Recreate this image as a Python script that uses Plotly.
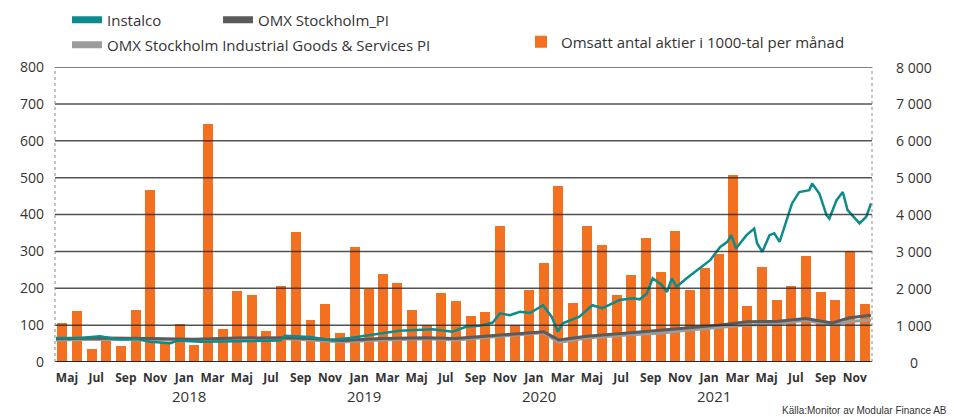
import plotly.graph_objects as go

# ---------------- data ----------------
months = ["2017-05", "2017-06", "2017-07", "2017-08", "2017-09", "2017-10", "2017-11", "2017-12",
          "2018-01", "2018-02", "2018-03", "2018-04", "2018-05", "2018-06", "2018-07", "2018-08",
          "2018-09", "2018-10", "2018-11", "2018-12", "2019-01", "2019-02", "2019-03", "2019-04",
          "2019-05", "2019-06", "2019-07", "2019-08", "2019-09", "2019-10", "2019-11", "2019-12",
          "2020-01", "2020-02", "2020-03", "2020-04", "2020-05", "2020-06", "2020-07", "2020-08",
          "2020-09", "2020-10", "2020-11", "2020-12", "2021-01", "2021-02", "2021-03", "2021-04",
          "2021-05", "2021-06", "2021-07", "2021-08", "2021-09", "2021-10", "2021-11", "2021-12"]
volume_k = [1050, 1380, 350, 570, 440, 1420, 4670, 520,
            1030, 470, 6460, 900, 1930, 1820, 840, 2060,
            3520, 1140, 1570, 780, 3120, 1980, 2390, 2140,
            1410, 1000, 1870, 1650, 1240, 1350, 3680, 1000,
            1950, 2680, 4770, 1600, 3680, 3170, 1820, 2360,
            3360, 2440, 3550, 1950, 2550, 2930, 5070, 1520,
            2570, 1680, 2060, 2870, 1900, 1680, 3010, 1570]

instalco_dates = ["2017-05-03", "2017-06-22", "2017-08-03", "2017-09-08", "2017-10-20", "2017-11-16",
                  "2017-12-28", "2018-01-12", "2018-02-28", "2018-04-16", "2018-06-12", "2018-08-14",
                  "2018-08-24", "2018-09-19", "2018-10-15", "2018-11-27", "2019-01-07", "2019-04-20",
                  "2019-06-28", "2019-08-09", "2019-09-08", "2019-10-05", "2019-11-01", "2019-11-16",
                  "2019-12-07", "2019-12-28", "2020-01-18", "2020-02-14", "2020-03-03", "2020-03-16",
                  "2020-03-26", "2020-04-30", "2020-05-27", "2020-06-17", "2020-07-23", "2020-08-20",
                  "2020-09-03", "2020-09-18", "2020-09-30", "2020-10-19", "2020-10-30", "2020-11-09",
                  "2020-11-19", "2020-12-10", "2021-01-07", "2021-01-28", "2021-02-18", "2021-03-05",
                  "2021-03-13", "2021-03-23", "2021-04-14", "2021-04-30", "2021-05-06", "2021-05-17",
                  "2021-06-01", "2021-06-11", "2021-06-22", "2021-07-06", "2021-07-18", "2021-08-02",
                  "2021-08-23", "2021-08-29", "2021-09-13", "2021-09-28", "2021-10-04", "2021-10-19",
                  "2021-11-01", "2021-11-11", "2021-11-21", "2021-12-06", "2021-12-20", "2021-12-30"]
instalco = [65, 65, 70, 62, 62, 55,
            51, 58, 55, 56, 57, 58,
            71, 70, 68, 60, 65, 85,
            89, 82, 96, 98, 107, 132,
            127, 136, 133, 154, 123, 82,
            105, 123, 154, 146, 168, 173,
            170, 186, 227, 209, 190, 227,
            204, 227, 254, 276, 312, 326,
            344, 308, 344, 362, 322, 299,
            344, 349, 326, 380, 430, 461,
            466, 484, 457, 398, 389, 439,
            461, 412, 398, 376, 394, 430]

index_dates = ["2017-05-03", "2017-08-15", "2017-11-15", "2018-02-15", "2018-05-15", "2018-08-15",
               "2018-10-15", "2018-12-20", "2019-03-15", "2019-06-15", "2019-08-15", "2019-10-15",
               "2019-12-15", "2020-02-15", "2020-03-18", "2020-05-15", "2020-08-15", "2020-10-15",
               "2020-12-15", "2021-02-15", "2021-04-15", "2021-06-15", "2021-08-15", "2021-10-10",
               "2021-11-15", "2021-12-30"]
omx_pi = [63, 65, 64, 62, 65, 66,
          64, 58, 64, 66, 64, 70,
          75, 82, 60, 70, 79, 85,
          93, 100, 109, 110, 118, 106,
          120, 127]
omx_ind = [60, 62, 60, 60, 63, 64,
           60, 54, 60, 63, 60, 66,
           71, 79, 53, 65, 74, 78,
           87, 94, 100, 104, 113, 100,
           110, 114]

left_ticks = [0, 100, 200, 300, 400, 500, 600, 700, 800]
right_ticks = [0, 1000, 2000, 3000, 4000, 5000, 6000, 7000, 8000]
month_ticks = ["2017-05", "2017-07", "2017-09", "2017-11", "2018-01", "2018-03", "2018-05", "2018-07",
               "2018-09", "2018-11", "2019-01", "2019-03", "2019-05", "2019-07", "2019-09", "2019-11",
               "2020-01", "2020-03", "2020-05", "2020-07", "2020-09", "2020-11", "2021-01", "2021-03",
               "2021-05", "2021-07", "2021-09", "2021-11"]
month_names = ["Maj", "Jul", "Sep", "Nov", "Jan", "Mar"] * 5
month_names = month_names[:len(month_ticks)]
years = ["2018", "2019", "2020", "2021"]

# ---------------- styling ----------------
TEAL = "#0b8b8b"
DARK = "#5b5b5b"
LIGHT = "#9c9c9c"
ORANGE = "#f37021"
TXT = "#333333"
FONT = "Open Sans"

# the page body has an 8px margin, so the figure is drawn 8px in from the window corner
OFF = 8
W, H = 954 - OFF, 417 - OFF
L, R, T, B = 55 - OFF, 954 - 872, 67 - OFF, 417 - 362
PW, PH = W - L - R, H - T - B


def px_to_paper_x(px):  # px in window coordinates
    return (px - OFF - L) / PW


def px_to_paper_y(py):
    return (H - B - (py - OFF)) / PH


fig = go.Figure()

DAY_MS = 86400000
fig.add_trace(go.Bar(
    x=months, y=volume_k, xperiod="M1", xperiodalignment="middle",
    width=0.685 * 30.44 * DAY_MS, marker=dict(color=ORANGE, line=dict(width=0)),
    name="Omsatt antal aktier i 1000-tal per månad", legend="legend3", yaxis="y",
))

fig.add_trace(go.Scatter(x=index_dates, y=omx_ind, mode="lines", yaxis="y2",
                         line=dict(color=LIGHT, width=3), showlegend=False))
fig.add_trace(go.Scatter(x=index_dates, y=omx_pi, mode="lines", yaxis="y2",
                         line=dict(color=DARK, width=3), showlegend=False))
fig.add_trace(go.Scatter(x=instalco_dates, y=instalco, mode="lines", yaxis="y2",
                         line=dict(color=TEAL, width=2.5), showlegend=False))

# legend-only entries with thick symbols
fig.add_trace(go.Scatter(x=[None], y=[None], mode="lines", yaxis="y2", name="Instalco",
                         line=dict(color=TEAL, width=7), legend="legend"))
fig.add_trace(go.Scatter(x=[None], y=[None], mode="lines", yaxis="y2", name="OMX Stockholm_PI",
                         line=dict(color=DARK, width=7), legend="legend4"))
fig.add_trace(go.Scatter(x=[None], y=[None], mode="lines", yaxis="y2",
                         name="OMX Stockholm Industrial Goods & Services PI",
                         line=dict(color=LIGHT, width=7), legend="legend2"))

# gridlines above bars
shapes = []
for v in left_ticks:
    shapes.append(dict(type="line", xref="paper", x0=0, x1=1, yref="y2", y0=v, y1=v,
                       line=dict(color="rgba(40,40,40,0.8)" if v else "rgba(30,30,30,0.95)",
                                 width=1.5 if v else 2), layer="above"))
for xp in (0, 1):
    shapes.append(dict(type="line", xref="paper", x0=xp, x1=xp, yref="paper", y0=0, y1=1,
                       line=dict(color="#8a8a8a", width=1, dash="3px,3px"), layer="above"))

annotations = []
for v in right_ticks:
    txt = f"{v:,}".replace(",", "\u00a0")
    annotations.append(dict(x=px_to_paper_x(914), xref="paper", y=v, yref="y", text=txt,
                            showarrow=False, xanchor="center", yanchor="middle",
                            font=dict(family=FONT, size=14, color=TXT)))
for yr in years:
    annotations.append(dict(x=f"{yr}-02-05", xref="x", y=px_to_paper_y(396), yref="paper",
                            text=yr, showarrow=False, xanchor="center", yanchor="middle",
                            font=dict(family=FONT, size=15, color=TXT)))
annotations.append(dict(x=px_to_paper_x(949), xref="paper", y=px_to_paper_y(410), yref="paper",
                        text="Källa:Monitor av Modular Finance AB", showarrow=False,
                        xanchor="right", yanchor="middle",
                        font=dict(family="Liberation Sans, Arial", size=10, color=TXT)))

tickvals = [f"{m}-26" for m in month_ticks]

legend_font = dict(family=FONT, size=15, color=TXT)


def leg(px, py):  # figure coordinates
    return dict(orientation="h", xref="container", yref="container", x=px / W, y=1 - py / H,
                xanchor="left", yanchor="middle", font=legend_font, bgcolor="rgba(0,0,0,0)")


fig.update_layout(
    width=W, height=H,
    margin=dict(l=L, r=R, t=T, b=B, autoexpand=False),
    paper_bgcolor="white", plot_bgcolor="white",
    font=dict(family=FONT, color=TXT),
    bargap=0,
    xaxis=dict(type="date", range=["2017-05-01", "2022-01-01"], tickmode="array",
               tickvals=tickvals, ticktext=month_names, tickangle=0,
               tickfont=dict(family=FONT, size=12, color=TXT, weight="bold"),
               showgrid=False, zeroline=False, showline=False, ticks="",
               ticklabelstandoff=7),
    yaxis=dict(range=[0, 8000], showgrid=False, zeroline=False, showticklabels=False,
               side="right", fixedrange=True),
    yaxis2=dict(range=[0, 800], overlaying="y", side="left", tickmode="array",
                tickvals=left_ticks, showgrid=False, zeroline=False, showline=False,
                tickfont=dict(family=FONT, size=14, color=TXT), ticks="",
                ticklabelstandoff=10),
    legend=leg(59, 12),
    legend4=leg(210, 12),
    legend2=leg(59, 37),
    legend3=leg(513, 34),
    shapes=shapes,
    annotations=annotations,
)

fig.write_html("out.html")
